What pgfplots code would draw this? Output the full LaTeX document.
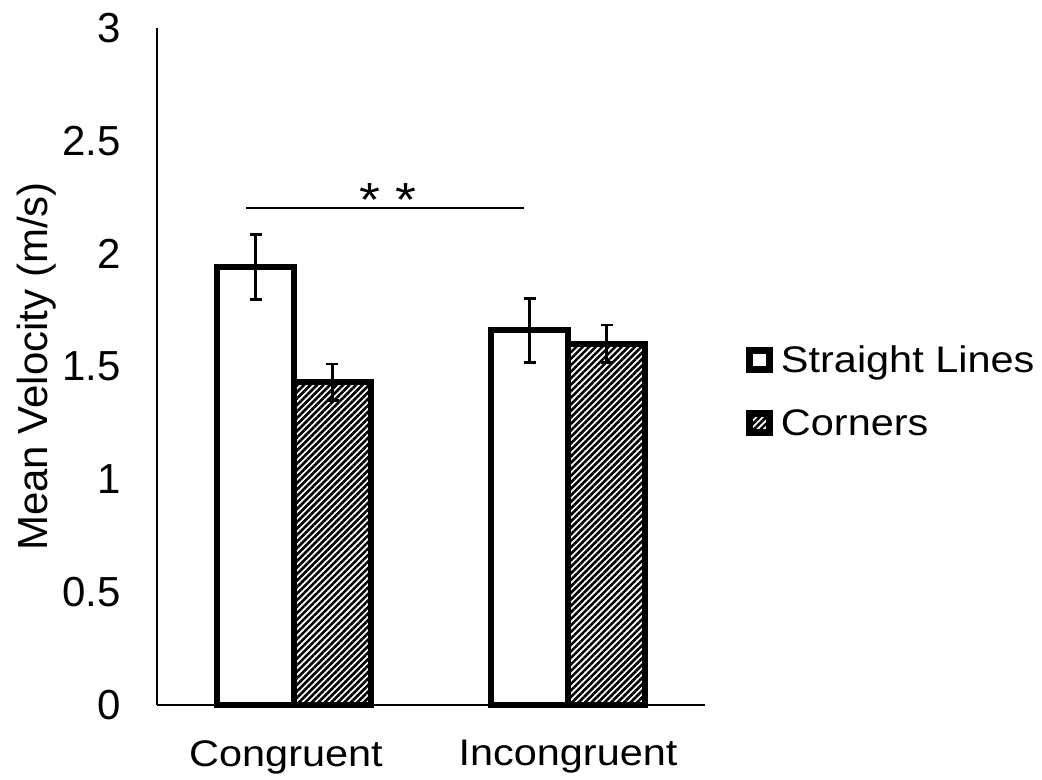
\documentclass[border=0pt]{standalone}
\usepackage{fontspec}
\setmainfont{Liberation Sans}
\newfontfamily\widefont{Liberation Sans}[FakeStretch=1.12]
\usepackage{pgfplots}
\usepackage{pgfplotstable}
\pgfplotsset{compat=1.18}
\usetikzlibrary{patterns.meta}

\newcommand\bigtext{\fontsize{21}{25}\selectfont}
\newcommand\widetext{\widefont\fontsize{18.5}{22}\selectfont}

% bars sit at category +- 0.1405 (half a bar width in axis units)
\pgfplotstableread{
x       y     err
-0.1405 1.94  0.144
0.8595  1.66  0.141
}\straight
\pgfplotstableread{
x       y     err
0.1405  1.43  0.081
1.1405  1.60  0.083
}\corners

\pgfplotsset{
  errstyle/.style={
    error bars/y dir=both, error bars/y explicit,
    error bars/error bar style={line width=1.3pt, black},
    error bars/error mark options={rotate=90, mark size=3pt, line width=1.3pt, black}},
}

\begin{document}
\begin{tikzpicture}
\useasboundingbox (-78.5pt,-37.5pt) rectangle (442.5pt,352.5pt);
\begin{axis}[
  at={(0,0)}, anchor=south west,
  scale only axis, width=274pt, height=338.5pt,
  xmin=-0.5, xmax=1.5, ymin=0, ymax=3,
  axis lines*=left,
  axis line style={line width=1pt},
  xtick={0,1},
  xticklabels={Congruent\hspace*{8pt}, Incongruent},
  ytick={0,0.5,1,1.5,2,2.5,3},
  major tick length=0pt,
  /pgf/number format/assume math mode=true,
  yticklabel style={font=\bigtext, inner sep=0pt, anchor=east, xshift=-18pt},
  xticklabel style={font=\widetext, inner sep=0pt, anchor=north, yshift=-17.5pt},
  ylabel={Mean Velocity (m/s)},
  ylabel style={font=\bigtext, at={(axis description cs:-0.22,0.5)}, anchor=center},
  legend style={draw=none, fill=none, inner sep=0pt, outer sep=0pt,
    at={(axis description cs:1.0748,0.5303)}, anchor=north west,
    cells={anchor=base west},
    nodes={inner sep=0pt, text height=13.5pt, text depth=4pt, font=\widetext},
    row sep=14pt, column sep=4pt},
  legend image code/.code={\draw[#1, line width=3.5pt] (1.75pt,1.75pt) rectangle (11.75pt,11.25pt);},
  clip=false,
]
% Straight lines
\addplot[ybar, bar width=38.5pt, bar shift=0pt, draw=black, line width=3pt, fill=white, errstyle]
  table[x=x, y=y, y error=err] {\straight};
% Corners
\addplot[ybar, bar width=38.5pt, bar shift=0pt, draw=black, line width=3pt,
  pattern={Lines[angle=45,distance=2.3pt,line width=1.3pt]}, pattern color=black, errstyle]
  table[x=x, y=y, y error=err] {\corners};
\legend{Straight Lines, Corners}
% significance bracket
\addplot[black, line width=1pt, forget plot] coordinates {(-0.175,2.203) (0.839,2.203)};
\node[font=\widefont\fontsize{24}{28}\selectfont, anchor=base] at (axis cs:0.343,2.165) {* *};
\end{axis}
\end{tikzpicture}
\end{document}
